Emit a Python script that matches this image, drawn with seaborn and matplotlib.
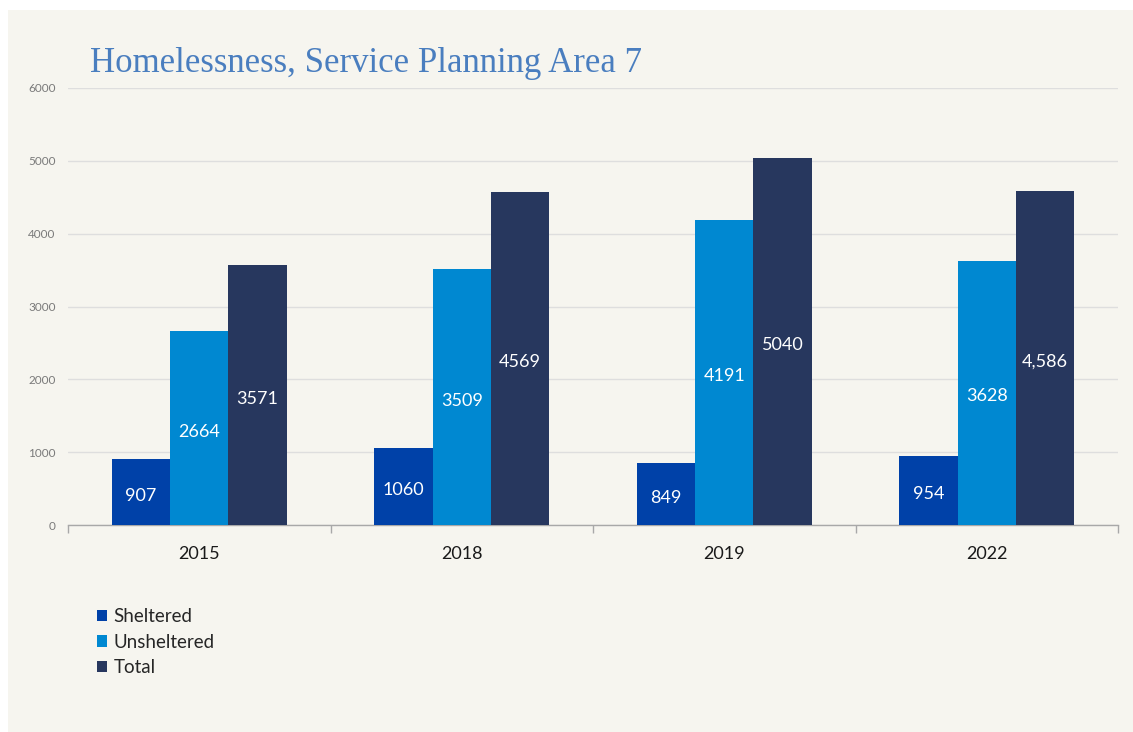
import matplotlib
matplotlib.use("Agg")
import matplotlib.pyplot as plt
from matplotlib.patches import Rectangle
from matplotlib.ticker import FixedLocator
import seaborn as sns
import pandas as pd

years = ["2015", "2018", "2019", "2022"]
series = ["Sheltered", "Unsheltered", "Total"]
sheltered = [907, 1060, 849, 954]
unsheltered = [2664, 3509, 4191, 3628]
total = [3571, 4569, 5040, 4586]
value_labels = {
    "Sheltered": ["907", "1060", "849", "954"],
    "Unsheltered": ["2664", "3509", "4191", "3628"],
    "Total": ["3571", "4569", "5040", "4,586"],
}
colors = ["#0041A8", "#0088D1", "#27375E"]

df = pd.DataFrame({
    "Year": years * 3,
    "Series": [s for s in series for _ in years],
    "Count": sheltered + unsheltered + total,
})

sns.set_theme(style="white")
plt.rcParams["font.family"] = ["Lato", "DejaVu Sans"]

bg = "#F6F5EF"
fig = plt.figure(figsize=(11.33, 7.32), dpi=100, facecolor="white")
fig.patches.append(Rectangle((8 / 1133, 0), 1 - 8 / 1133, 1 - 10 / 732,
                             transform=fig.transFigure, facecolor=bg,
                             edgecolor="none", zorder=-10))
ax = fig.add_axes([68 / 1133, 1 - 525 / 732, (1118 - 68) / 1133, (525 - 88) / 732])
ax.set_facecolor(bg)

sns.barplot(data=df, x="Year", y="Count", hue="Series", order=years,
            hue_order=series, palette=colors, width=0.667, saturation=1,
            edgecolor="none", linewidth=0, ax=ax, zorder=3)

for container, name in zip(ax.containers, series):
    texts = ax.bar_label(container, labels=value_labels[name], label_type="center",
                         color="white", fontsize=13, padding=-1.5)
    for t in texts:
        t.set_verticalalignment("center_baseline")

ax.set_ylim(0, 6000)
ax.set_xlim(-0.5, 3.5)
ax.set_yticks(range(0, 6001, 1000))
ax.yaxis.grid(True, color="#DEDEDE", linewidth=1, zorder=0)
ax.set_axisbelow(True)
ax.tick_params(axis="y", length=0, labelsize=8.5, labelcolor="#7A7A7A", pad=9)
ax.tick_params(axis="x", which="major", length=0, labelsize=13,
               labelcolor="#1A1A1A", pad=15)
ax.xaxis.set_minor_locator(FixedLocator([-0.5, 0.5, 1.5, 2.5, 3.5]))
ax.tick_params(axis="x", which="minor", bottom=True, length=6, width=1,
               color="#A8A8A8", direction="out")
ax.set_xlabel("")
ax.set_ylabel("")
for side in ["top", "right", "left"]:
    ax.spines[side].set_visible(False)
ax.spines["bottom"].set_color("#A8A8A8")
ax.spines["bottom"].set_linewidth(1)

fig.text(90 / 1133, 1 - 63 / 732, "Homelessness, Service Planning Area 7",
         fontsize=25, color="#4A7EBF", family=["Liberation Serif", "DejaVu Serif"],
         ha="left", va="center")

handles, labels = ax.get_legend_handles_labels()
ax.legend(handles, labels, loc="upper left",
          bbox_to_anchor=(97 / 1133, 1 - 608 / 732), bbox_transform=fig.transFigure,
          frameon=False, fontsize=13.5, handlelength=0.53, handleheight=0.53,
          handletextpad=0.35, labelspacing=0.46, borderaxespad=0, borderpad=0)

fig.savefig("out.png", dpi=100, facecolor=fig.get_facecolor())
